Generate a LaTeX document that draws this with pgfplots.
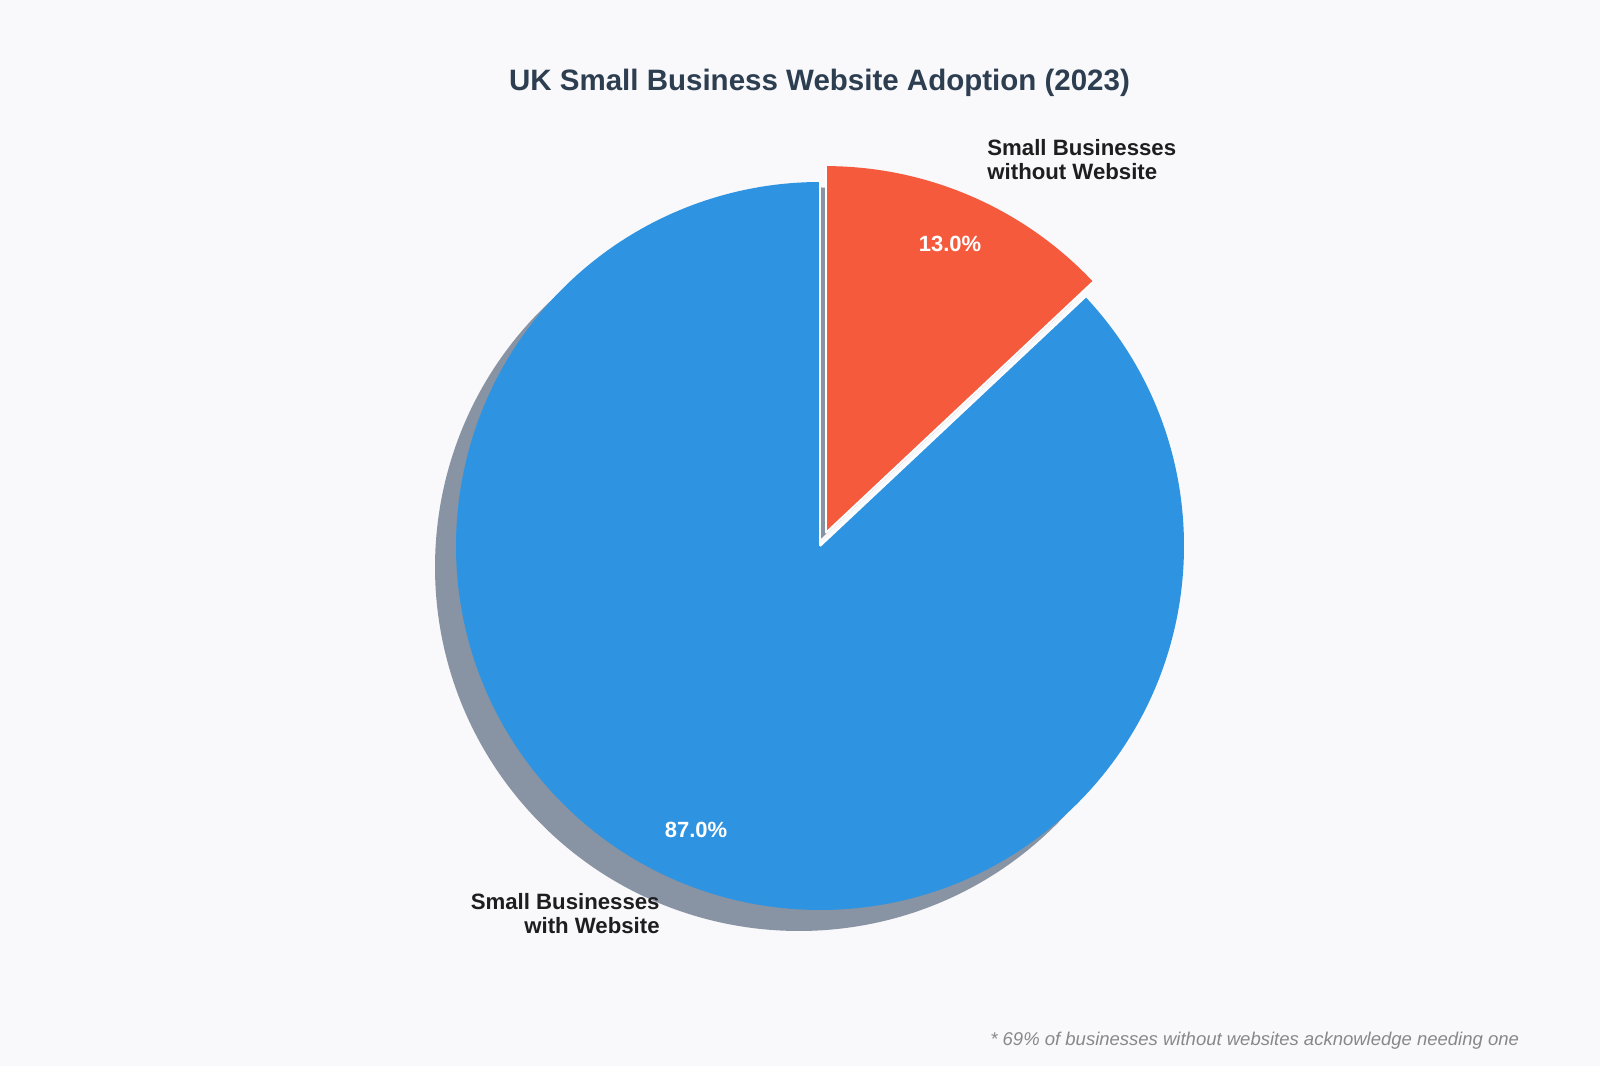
\documentclass[border=0pt]{standalone}
\usepackage{pgfplots}
\pgfplotsset{compat=1.18}
\usepackage{fontspec}
\setmainfont{Liberation Sans}
\definecolor{bg}{HTML}{F9F8FB}
\definecolor{pieblue}{HTML}{2E93E0}
\definecolor{piered}{HTML}{F65A3D}
\definecolor{shadowgray}{HTML}{8893A3}
\definecolor{titlecol}{HTML}{2C3E50}
\definecolor{labcol}{HTML}{1E1E1E}
\definecolor{footcol}{HTML}{888888}
% data (percent)
\newcommand\valWith{87}
\newcommand\valWithout{13}
\pgfmathsetmacro\redEnd{90-3.6*\valWithout}
\pgfmathsetmacro\blueEnd{\redEnd-3.6*\valWith}
\begin{document}
\begin{tikzpicture}
\begin{axis}[width=800pt,height=533pt,scale only axis,
  xmin=0,xmax=1600,ymin=0,ymax=1066,hide axis,clip=false]
\fill[bg] (axis cs:0,0) rectangle (axis cs:1600,1066);
% shadows
\fill[shadowgray] (axis cs:799,499) -- ++(\redEnd:182pt) arc[start angle=\redEnd,end angle=\blueEnd,radius=182pt] -- cycle;
\fill[shadowgray] (axis cs:804.6,511.9) -- ++(90:183.5pt) arc[start angle=90,end angle=\redEnd,radius=183.5pt] -- cycle;
% slices
\fill[pieblue] (axis cs:820,520) -- ++(\redEnd:182pt) arc[start angle=\redEnd,end angle=\blueEnd,radius=182pt] -- cycle;
\draw[white,line width=1pt] (axis cs:820,520) -- ++(\redEnd:182pt);
\draw[white,line width=1pt] (axis cs:820,520) -- ++(\blueEnd:182pt);
\fill[piered] (axis cs:825.6,532.9) -- ++(90:183.5pt) arc[start angle=90,end angle=\redEnd,radius=183.5pt] -- cycle;
\draw[white,line width=1pt] (axis cs:825.6,532.9) -- ++(90:183.5pt);
\draw[white,line width=1pt] (axis cs:825.6,532.9) -- ++(\redEnd:183.5pt);
% texts
\node[anchor=base,text=titlecol,font=\bfseries\fontsize{14.75}{18}\selectfont] at (axis cs:819.5,975.8) {UK Small Business Website Adoption (2023)};
\node[anchor=base west,text=labcol,font=\bfseries\fontsize{11.1}{13}\selectfont,inner sep=0pt] at (axis cs:987,910) {Small Businesses};
\node[anchor=base west,text=labcol,font=\bfseries\fontsize{11.1}{13}\selectfont,inner sep=0pt] at (axis cs:987,886.6) {without Website};
\node[anchor=base east,text=labcol,font=\bfseries\fontsize{11.1}{13}\selectfont,inner sep=0pt] at (axis cs:660,157) {Small Businesses};
\node[anchor=base east,text=labcol,font=\bfseries\fontsize{11.1}{13}\selectfont,inner sep=0pt] at (axis cs:660,132.5) {with Website};
\node[anchor=center,text=white,font=\bfseries\fontsize{11}{13}\selectfont] at (axis cs:950,822) {13.0\%};
\node[anchor=center,text=white,font=\bfseries\fontsize{11}{13}\selectfont] at (axis cs:696,236.4) {87.0\%};
\node[anchor=base east,text=footcol,font=\itshape\fontsize{9.25}{11}\selectfont,inner sep=0pt] at (axis cs:1519.4,20.4) {* 69\% of businesses without websites acknowledge needing one};
\end{axis}
\end{tikzpicture}
\end{document}
